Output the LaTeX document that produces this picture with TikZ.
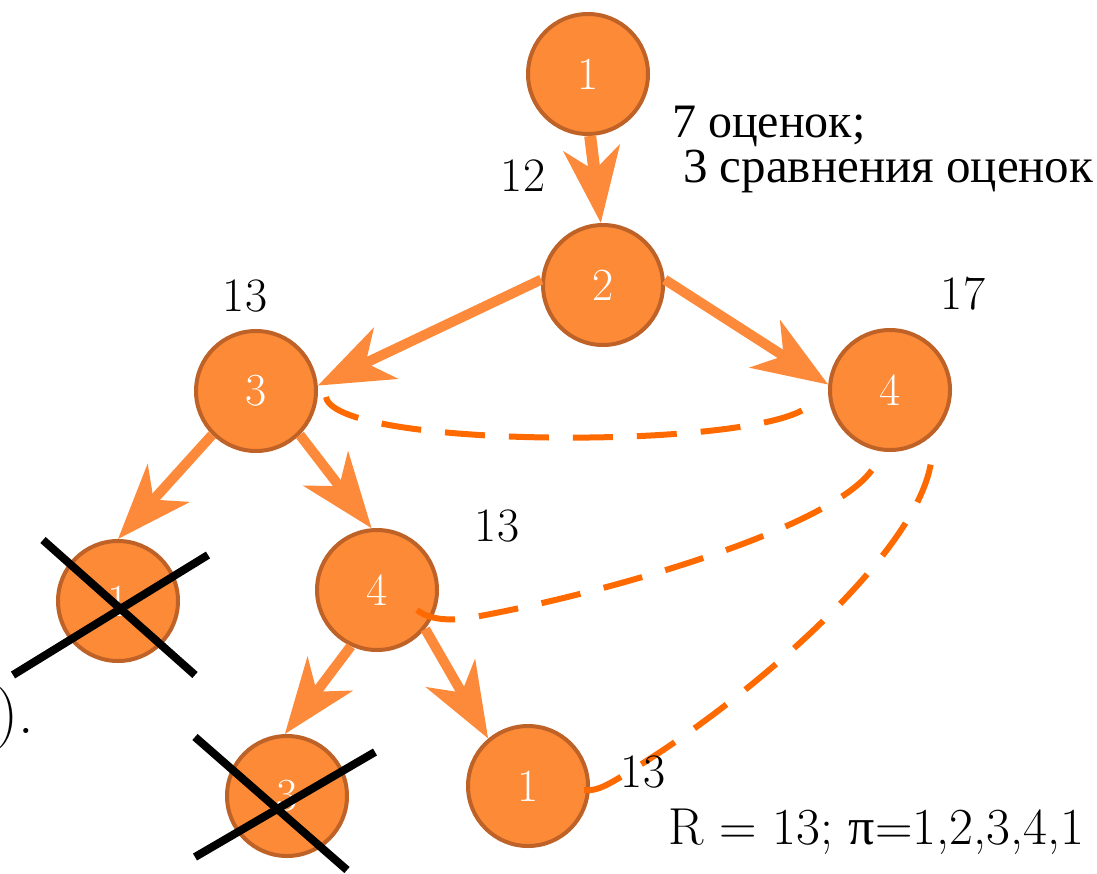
\documentclass[tikz,border=0pt]{standalone}
\usepackage{fontspec}
\newfontfamily\rusfont{Liberation Serif}
\usetikzlibrary{arrows.meta}
\definecolor{nfill}{HTML}{FD8A36}
\definecolor{nborder}{HTML}{BF6228}
\definecolor{arr}{HTML}{FD8A3A}
\definecolor{dsh}{HTML}{FF6A00}
\begin{document}
\begin{tikzpicture}[x=1pt,y=-1pt,
  vert/.style={circle, fill=nfill, draw=nborder, line width=4pt, minimum size=120pt,
    inner sep=0pt, text=white, font=\fontsize{46}{48}\selectfont},
  arrowedge/.style={draw=arr, line width=10pt, -{Stealth[length=75pt,width=56pt,inset=22pt]}},
  dashedge/.style={draw=dsh, line width=6pt, dash pattern=on 40pt off 24pt},
  crossline/.style={draw=black, line width=8pt},
  lbl/.style={inner sep=0pt, font=\fontsize{48}{50}\selectfont},
  cyrlbl/.style={inner sep=0pt, anchor=base west, font=\rusfont\fontsize{48}{52}\selectfont}]
\useasboundingbox (0,0) rectangle (1097,873);

\node[vert] (t1) at (588,74) {1};
\node[vert] (n2) at (603,285) {2};
\node[vert] (n3) at (256,391) {3};
\node[vert] (n4) at (890,390) {4};
\node[vert] (x1) at (118,601) {1};
\node[vert] (m4) at (377,590) {4};
\node[vert] (x3) at (287,796) {3};
\node[vert] (b1) at (528,786) {1};

% arrows
\draw[arrowedge, line width=12pt] (t1.272) -- (n2.92);
\draw[arrowedge] (n2.175) -- (n3.5);
\draw[arrowedge] (n2.5) -- (n4.175);
\draw[arrowedge] (n3.225) -- (x1.90);
\draw[arrowedge] (n3.315) -- (m4.95);
\draw[arrowedge] (m4.245) -- (x3.92);
\draw[arrowedge] (m4.321) -- (b1.130);

% dashed curves
\coordinate (a0) at ([xshift=8pt,yshift=-6pt]n3.east);
\coordinate (a1) at ([xshift=-14pt,yshift=-8pt]n4.west);
\draw[dashedge] (a0) .. controls (336,452) and (806,450) .. (a1);
\coordinate (b0) at (417,610);
\coordinate (bE) at (878,458);
\draw[dashedge] (b0) .. controls (430,620) and (450,622) .. (480,616)
  .. controls (620,590) and (860,520) .. (bE);
\coordinate (c0) at (584,790);
\coordinate (cE) at (932,450);
\draw[dashedge] (c0) .. controls (600,792) and (615,780) .. (640,765)
  .. controls (760,690) and (932,540) .. (cE);

% crosses
\draw[crossline] (43,540) -- (195,675);
\draw[crossline] (13,675) -- (208,555);
\draw[crossline] (195,737) -- (347,870);
\draw[crossline] (195,857) -- (375,752);

% labels
\node[lbl] (l12) at (523,176) {12};
\node[cyrlbl] (c1) at (672,137) {7 оценок;};
\node[cyrlbl, font=\rusfont\fontsize{49}{52}\selectfont] (c2) at (683,182) {3 сравнения оценок};
\node[lbl] (l13a) at (245,296) {13};
\node[lbl] (l17) at (963,294) {17};
\node[lbl] (l13b) at (497,526) {13};
\node[lbl] (l13c) at (643,772) {13};
\node[inner sep=0pt, anchor=west, font=\fontsize{52}{56}\selectfont] (res) at (668,832) {R = 13; {\rusfont π}=1,2,3,4,1};
\node[inner sep=0pt, anchor=east, font=\fontsize{62}{66}\selectfont] (par) at (34,718) {).};
\end{tikzpicture}
\end{document}
